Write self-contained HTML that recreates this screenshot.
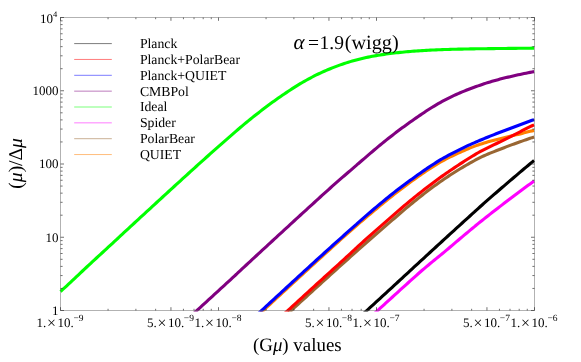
<!DOCTYPE html>
<html><head><meta charset="utf-8"><title>plot</title>
<style>html,body{margin:0;padding:0;background:#fff}svg{display:block;will-change:transform}text{font-family:"Liberation Serif",serif;fill:#000;text-rendering:geometricPrecision}.i{font-style:italic}</style></head><body>
<svg width="581" height="362" viewBox="0 0 581 362">
<rect width="581" height="362" fill="#fff"/>
<defs><clipPath id="c"><rect x="56.5" y="17.5" width="482.0" height="294.0"/></clipPath></defs>
<g clip-path="url(#c)" fill="none" stroke-width="3.1" stroke-linejoin="round">
<path d="M258.3,315.05 L260.3,313.21 L262.3,311.37 L264.3,309.52 L266.3,307.68 L268.3,305.84 L270.3,304.00 L272.3,302.15 L274.3,300.31 L276.3,298.47 L278.3,296.62 L280.3,294.78 L282.3,292.94 L284.3,291.09 L286.3,289.25 L288.3,287.41 L290.3,285.56 L292.3,283.72 L294.3,281.88 L296.3,280.04 L298.3,278.20 L300.3,276.37 L302.3,274.53 L304.3,272.69 L306.3,270.86 L308.3,269.03 L310.3,267.20 L312.3,265.37 L314.3,263.54 L316.3,261.72 L318.3,259.89 L320.3,258.07 L322.3,256.26 L324.3,254.44 L326.3,252.63 L328.3,250.81 L330.3,249.00 L332.3,247.19 L334.3,245.37 L336.3,243.56 L338.3,241.75 L340.3,239.94 L342.3,238.14 L344.3,236.35 L346.3,234.57 L348.3,232.80 L350.3,231.04 L352.3,229.30 L354.3,227.56 L356.3,225.84 L358.2,224.12 L360.2,222.41 L362.2,220.71 L364.2,219.01 L366.2,217.33 L368.2,215.64 L370.2,213.96 L372.2,212.29 L374.2,210.61 L376.2,208.95 L378.2,207.29 L380.2,205.64 L382.2,204.00 L384.2,202.36 L386.2,200.74 L388.2,199.13 L390.2,197.54 L392.2,195.95 L394.2,194.38 L396.2,192.83 L398.2,191.28 L400.2,189.75 L402.2,188.23 L404.2,186.73 L406.2,185.24 L408.2,183.76 L410.2,182.29 L412.2,180.84 L414.2,179.40 L416.2,177.98 L418.2,176.57 L420.2,175.17 L422.2,173.79 L424.2,172.43 L426.2,171.08 L428.2,169.75 L430.2,168.43 L432.2,167.14 L434.2,165.87 L436.2,164.63 L438.2,163.42 L440.2,162.25 L442.2,161.11 L444.2,160.02 L446.2,158.96 L448.2,157.95 L450.2,156.96 L452.2,156.00 L454.2,155.05 L456.2,154.12 L458.2,153.20 L460.2,152.29 L462.2,151.38 L464.2,150.48 L466.2,149.59 L468.2,148.73 L470.2,147.90 L472.2,147.11 L474.2,146.36 L476.1,145.64 L478.1,144.95 L480.1,144.29 L482.1,143.65 L484.1,143.03 L486.1,142.43 L488.1,141.84 L490.1,141.27 L492.1,140.72 L494.1,140.18 L496.1,139.65 L498.1,139.14 L500.1,138.63 L502.1,138.14 L504.1,137.65 L506.1,137.18 L508.1,136.71 L510.1,136.25 L512.1,135.79 L514.1,135.33 L516.1,134.86 L518.1,134.39 L520.1,133.89 L522.1,133.38 L524.1,132.86 L526.1,132.34 L528.1,131.82 L530.1,131.33 L532.1,130.87 L534.1,130.45" stroke="#ff8000"/>
<path d="M286.3,315.06 L288.3,313.23 L290.3,311.39 L292.3,309.56 L294.3,307.73 L296.3,305.89 L298.3,304.06 L300.3,302.23 L302.3,300.40 L304.3,298.57 L306.3,296.74 L308.3,294.92 L310.3,293.09 L312.3,291.27 L314.3,289.44 L316.3,287.62 L318.3,285.80 L320.3,283.98 L322.3,282.17 L324.3,280.35 L326.3,278.54 L328.3,276.73 L330.3,274.92 L332.3,273.11 L334.3,271.31 L336.3,269.51 L338.3,267.70 L340.3,265.90 L342.3,264.11 L344.3,262.31 L346.3,260.52 L348.3,258.73 L350.3,256.95 L352.3,255.16 L354.3,253.38 L356.3,251.61 L358.2,249.84 L360.2,248.07 L362.2,246.30 L364.2,244.54 L366.2,242.78 L368.2,241.02 L370.2,239.27 L372.2,237.52 L374.2,235.78 L376.2,234.04 L378.2,232.30 L380.2,230.56 L382.2,228.83 L384.2,227.10 L386.2,225.37 L388.2,223.65 L390.2,221.92 L392.2,220.19 L394.2,218.46 L396.2,216.73 L398.2,215.00 L400.2,213.28 L402.2,211.56 L404.2,209.86 L406.2,208.17 L408.2,206.50 L410.2,204.84 L412.2,203.20 L414.2,201.57 L416.2,199.95 L418.2,198.35 L420.2,196.76 L422.2,195.18 L424.2,193.62 L426.2,192.07 L428.2,190.54 L430.2,189.03 L432.2,187.55 L434.2,186.09 L436.2,184.65 L438.2,183.23 L440.2,181.84 L442.2,180.46 L444.2,179.09 L446.2,177.73 L448.2,176.39 L450.2,175.06 L452.2,173.75 L454.2,172.46 L456.2,171.19 L458.2,169.95 L460.2,168.74 L462.2,167.55 L464.2,166.38 L466.2,165.22 L468.2,164.08 L470.2,162.95 L472.2,161.84 L474.2,160.75 L476.1,159.69 L478.1,158.65 L480.1,157.65 L482.1,156.69 L484.1,155.77 L486.1,154.88 L488.1,154.02 L490.1,153.18 L492.1,152.37 L494.1,151.57 L496.1,150.79 L498.1,150.00 L500.1,149.22 L502.1,148.45 L504.1,147.68 L506.1,146.91 L508.1,146.15 L510.1,145.41 L512.1,144.67 L514.1,143.94 L516.1,143.22 L518.1,142.51 L520.1,141.80 L522.1,141.09 L524.1,140.38 L526.1,139.67 L528.1,138.97 L530.1,138.28 L532.1,137.64 L534.1,137.05" stroke="#996633"/>
<path d="M372.2,315.54 L374.2,313.71 L376.2,311.87 L378.2,310.04 L380.2,308.21 L382.2,306.38 L384.2,304.55 L386.2,302.72 L388.2,300.89 L390.2,299.07 L392.2,297.25 L394.2,295.42 L396.2,293.60 L398.2,291.79 L400.2,289.97 L402.2,288.16 L404.2,286.34 L406.2,284.54 L408.2,282.73 L410.2,280.93 L412.2,279.13 L414.2,277.33 L416.2,275.55 L418.2,273.77 L420.2,272.01 L422.2,270.27 L424.2,268.56 L426.2,266.86 L428.2,265.19 L430.2,263.54 L432.2,261.91 L434.2,260.28 L436.2,258.66 L438.2,257.03 L440.2,255.40 L442.2,253.75 L444.2,252.09 L446.2,250.41 L448.2,248.72 L450.2,247.03 L452.2,245.32 L454.2,243.62 L456.2,241.92 L458.2,240.22 L460.2,238.53 L462.2,236.85 L464.2,235.17 L466.2,233.50 L468.2,231.84 L470.2,230.18 L472.2,228.54 L474.2,226.90 L476.1,225.27 L478.1,223.65 L480.1,222.04 L482.1,220.44 L484.1,218.84 L486.1,217.26 L488.1,215.68 L490.1,214.12 L492.1,212.56 L494.1,211.01 L496.1,209.46 L498.1,207.92 L500.1,206.39 L502.1,204.87 L504.1,203.35 L506.1,201.83 L508.1,200.32 L510.1,198.81 L512.1,197.30 L514.1,195.79 L516.1,194.29 L518.1,192.79 L520.1,191.29 L522.1,189.80 L524.1,188.31 L526.1,186.83 L528.1,185.36 L530.1,183.89 L532.1,182.41 L534.1,180.94" stroke="#ff00ff"/>
<path d="M60.5,291.49 L62.5,289.69 L64.5,287.87 L66.5,286.03 L68.5,284.17 L70.5,282.30 L72.5,280.42 L74.5,278.54 L76.5,276.65 L78.5,274.77 L80.5,272.88 L82.5,271.00 L84.5,269.12 L86.5,267.25 L88.5,265.39 L90.5,263.53 L92.5,261.69 L94.5,259.84 L96.5,258.00 L98.5,256.17 L100.5,254.33 L102.5,252.49 L104.5,250.65 L106.5,248.81 L108.5,246.97 L110.5,245.13 L112.5,243.29 L114.5,241.45 L116.5,239.60 L118.5,237.76 L120.4,235.92 L122.4,234.07 L124.4,232.23 L126.4,230.39 L128.4,228.54 L130.4,226.70 L132.4,224.86 L134.4,223.01 L136.4,221.17 L138.4,219.33 L140.4,217.48 L142.4,215.64 L144.4,213.80 L146.4,211.96 L148.4,210.12 L150.4,208.28 L152.4,206.44 L154.4,204.60 L156.4,202.76 L158.4,200.93 L160.4,199.09 L162.4,197.25 L164.4,195.42 L166.4,193.59 L168.4,191.75 L170.4,189.92 L172.4,188.09 L174.4,186.26 L176.4,184.44 L178.4,182.61 L180.4,180.79 L182.4,178.96 L184.4,177.14 L186.4,175.33 L188.4,173.51 L190.4,171.69 L192.4,169.88 L194.4,168.07 L196.4,166.26 L198.4,164.46 L200.4,162.66 L202.4,160.86 L204.4,159.06 L206.4,157.27 L208.4,155.48 L210.4,153.69 L212.4,151.91 L214.4,150.13 L216.4,148.36 L218.4,146.59 L220.4,144.83 L222.4,143.07 L224.4,141.31 L226.4,139.57 L228.4,137.82 L230.4,136.09 L232.4,134.36 L234.4,132.64 L236.4,130.92 L238.3,129.22 L240.3,127.53 L242.3,125.85 L244.3,124.18 L246.3,122.52 L248.3,120.88 L250.3,119.26 L252.3,117.65 L254.3,116.06 L256.3,114.47 L258.3,112.91 L260.3,111.35 L262.3,109.81 L264.3,108.29 L266.3,106.78 L268.3,105.29 L270.3,103.82 L272.3,102.36 L274.3,100.93 L276.3,99.50 L278.3,98.10 L280.3,96.70 L282.3,95.33 L284.3,93.96 L286.3,92.61 L288.3,91.28 L290.3,89.97 L292.3,88.67 L294.3,87.40 L296.3,86.14 L298.3,84.91 L300.3,83.70 L302.3,82.52 L304.3,81.36 L306.3,80.23 L308.3,79.13 L310.3,78.05 L312.3,77.00 L314.3,75.98 L316.3,74.98 L318.3,74.01 L320.3,73.07 L322.3,72.16 L324.3,71.26 L326.3,70.39 L328.3,69.54 L330.3,68.72 L332.3,67.91 L334.3,67.12 L336.3,66.36 L338.3,65.61 L340.3,64.89 L342.3,64.19 L344.3,63.51 L346.3,62.85 L348.3,62.22 L350.3,61.61 L352.3,61.02 L354.3,60.46 L356.3,59.92 L358.2,59.41 L360.2,58.91 L362.2,58.44 L364.2,57.98 L366.2,57.55 L368.2,57.13 L370.2,56.73 L372.2,56.35 L374.2,55.98 L376.2,55.62 L378.2,55.29 L380.2,54.96 L382.2,54.65 L384.2,54.35 L386.2,54.07 L388.2,53.80 L390.2,53.53 L392.2,53.28 L394.2,53.04 L396.2,52.81 L398.2,52.59 L400.2,52.38 L402.2,52.18 L404.2,51.99 L406.2,51.80 L408.2,51.63 L410.2,51.45 L412.2,51.29 L414.2,51.13 L416.2,50.98 L418.2,50.84 L420.2,50.71 L422.2,50.58 L424.2,50.46 L426.2,50.34 L428.2,50.23 L430.2,50.13 L432.2,50.04 L434.2,49.95 L436.2,49.86 L438.2,49.78 L440.2,49.71 L442.2,49.63 L444.2,49.56 L446.2,49.50 L448.2,49.44 L450.2,49.38 L452.2,49.32 L454.2,49.27 L456.2,49.22 L458.2,49.17 L460.2,49.12 L462.2,49.08 L464.2,49.04 L466.2,49.00 L468.2,48.96 L470.2,48.92 L472.2,48.89 L474.2,48.86 L476.1,48.82 L478.1,48.79 L480.1,48.77 L482.1,48.74 L484.1,48.71 L486.1,48.68 L488.1,48.66 L490.1,48.63 L492.1,48.61 L494.1,48.59 L496.1,48.56 L498.1,48.54 L500.1,48.52 L502.1,48.49 L504.1,48.47 L506.1,48.45 L508.1,48.42 L510.1,48.40 L512.1,48.38 L514.1,48.36 L516.1,48.34 L518.1,48.31 L520.1,48.29 L522.1,48.27 L524.1,48.25 L526.1,48.23 L528.1,48.21 L530.1,48.19 L532.1,48.17 L534.1,48.16" stroke="#00ff00"/>
<path d="M190.4,316.44 L192.4,314.61 L194.4,312.77 L196.4,310.94 L198.4,309.11 L200.4,307.28 L202.4,305.46 L204.4,303.63 L206.4,301.80 L208.4,299.97 L210.4,298.14 L212.4,296.31 L214.4,294.48 L216.4,292.65 L218.4,290.81 L220.4,288.98 L222.4,287.14 L224.4,285.30 L226.4,283.47 L228.4,281.62 L230.4,279.78 L232.4,277.94 L234.4,276.09 L236.4,274.24 L238.3,272.39 L240.3,270.55 L242.3,268.70 L244.3,266.85 L246.3,265.00 L248.3,263.15 L250.3,261.30 L252.3,259.46 L254.3,257.61 L256.3,255.76 L258.3,253.91 L260.3,252.07 L262.3,250.22 L264.3,248.38 L266.3,246.53 L268.3,244.69 L270.3,242.84 L272.3,241.00 L274.3,239.16 L276.3,237.31 L278.3,235.47 L280.3,233.63 L282.3,231.79 L284.3,229.95 L286.3,228.11 L288.3,226.27 L290.3,224.44 L292.3,222.60 L294.3,220.76 L296.3,218.93 L298.3,217.10 L300.3,215.26 L302.3,213.43 L304.3,211.60 L306.3,209.77 L308.3,207.95 L310.3,206.12 L312.3,204.30 L314.3,202.48 L316.3,200.66 L318.3,198.84 L320.3,197.02 L322.3,195.21 L324.3,193.40 L326.3,191.59 L328.3,189.79 L330.3,188.00 L332.3,186.21 L334.3,184.44 L336.3,182.67 L338.3,180.92 L340.3,179.17 L342.3,177.44 L344.3,175.71 L346.3,173.99 L348.3,172.27 L350.3,170.56 L352.3,168.85 L354.3,167.14 L356.3,165.43 L358.2,163.72 L360.2,162.01 L362.2,160.29 L364.2,158.57 L366.2,156.86 L368.2,155.14 L370.2,153.42 L372.2,151.72 L374.2,150.02 L376.2,148.33 L378.2,146.65 L380.2,144.99 L382.2,143.35 L384.2,141.72 L386.2,140.11 L388.2,138.52 L390.2,136.95 L392.2,135.40 L394.2,133.86 L396.2,132.33 L398.2,130.83 L400.2,129.34 L402.2,127.86 L404.2,126.40 L406.2,124.95 L408.2,123.51 L410.2,122.09 L412.2,120.68 L414.2,119.28 L416.2,117.89 L418.2,116.50 L420.2,115.13 L422.2,113.76 L424.2,112.41 L426.2,111.08 L428.2,109.78 L430.2,108.50 L432.2,107.26 L434.2,106.05 L436.2,104.86 L438.2,103.71 L440.2,102.58 L442.2,101.48 L444.2,100.41 L446.2,99.36 L448.2,98.34 L450.2,97.34 L452.2,96.37 L454.2,95.43 L456.2,94.51 L458.2,93.61 L460.2,92.74 L462.2,91.89 L464.2,91.07 L466.2,90.27 L468.2,89.50 L470.2,88.74 L472.2,88.00 L474.2,87.28 L476.1,86.57 L478.1,85.87 L480.1,85.17 L482.1,84.48 L484.1,83.81 L486.1,83.15 L488.1,82.51 L490.1,81.90 L492.1,81.30 L494.1,80.73 L496.1,80.17 L498.1,79.63 L500.1,79.10 L502.1,78.59 L504.1,78.09 L506.1,77.60 L508.1,77.12 L510.1,76.65 L512.1,76.19 L514.1,75.74 L516.1,75.30 L518.1,74.86 L520.1,74.44 L522.1,74.02 L524.1,73.60 L526.1,73.19 L528.1,72.79 L530.1,72.39 L532.1,72.00 L534.1,71.61" stroke="#800080"/>
<path d="M256.3,315.41 L258.3,313.57 L260.3,311.72 L262.3,309.87 L264.3,308.03 L266.3,306.18 L268.3,304.33 L270.3,302.49 L272.3,300.65 L274.3,298.80 L276.3,296.96 L278.3,295.12 L280.3,293.27 L282.3,291.43 L284.3,289.59 L286.3,287.75 L288.3,285.91 L290.3,284.07 L292.3,282.24 L294.3,280.40 L296.3,278.56 L298.3,276.73 L300.3,274.90 L302.3,273.06 L304.3,271.23 L306.3,269.40 L308.3,267.57 L310.3,265.75 L312.3,263.92 L314.3,262.09 L316.3,260.27 L318.3,258.45 L320.3,256.63 L322.3,254.82 L324.3,253.00 L326.3,251.19 L328.3,249.38 L330.3,247.57 L332.3,245.76 L334.3,243.96 L336.3,242.16 L338.3,240.37 L340.3,238.57 L342.3,236.78 L344.3,235.00 L346.3,233.21 L348.3,231.43 L350.3,229.66 L352.3,227.89 L354.3,226.12 L356.3,224.36 L358.2,222.61 L360.2,220.86 L362.2,219.11 L364.2,217.38 L366.2,215.65 L368.2,213.92 L370.2,212.21 L372.2,210.50 L374.2,208.80 L376.2,207.11 L378.2,205.43 L380.2,203.76 L382.2,202.10 L384.2,200.45 L386.2,198.81 L388.2,197.19 L390.2,195.58 L392.2,193.98 L394.2,192.40 L396.2,190.84 L398.2,189.30 L400.2,187.77 L402.2,186.26 L404.2,184.76 L406.2,183.28 L408.2,181.81 L410.2,180.35 L412.2,178.90 L414.2,177.45 L416.2,176.02 L418.2,174.60 L420.2,173.18 L422.2,171.78 L424.2,170.39 L426.2,169.01 L428.2,167.65 L430.2,166.30 L432.2,164.98 L434.2,163.68 L436.2,162.40 L438.2,161.15 L440.2,159.94 L442.2,158.77 L444.2,157.64 L446.2,156.55 L448.2,155.49 L450.2,154.45 L452.2,153.43 L454.2,152.41 L456.2,151.39 L458.2,150.37 L460.2,149.36 L462.2,148.36 L464.2,147.37 L466.2,146.41 L468.2,145.47 L470.2,144.56 L472.2,143.67 L474.2,142.81 L476.1,141.96 L478.1,141.12 L480.1,140.28 L482.1,139.45 L484.1,138.61 L486.1,137.78 L488.1,136.96 L490.1,136.15 L492.1,135.36 L494.1,134.57 L496.1,133.78 L498.1,133.01 L500.1,132.23 L502.1,131.47 L504.1,130.70 L506.1,129.94 L508.1,129.19 L510.1,128.44 L512.1,127.70 L514.1,126.95 L516.1,126.21 L518.1,125.47 L520.1,124.72 L522.1,123.97 L524.1,123.22 L526.1,122.47 L528.1,121.73 L530.1,121.02 L532.1,120.34 L534.1,119.72" stroke="#0000ff"/>
<path d="M282.3,315.61 L284.3,313.77 L286.3,311.93 L288.3,310.10 L290.3,308.27 L292.3,306.43 L294.3,304.60 L296.3,302.77 L298.3,300.94 L300.3,299.11 L302.3,297.28 L304.3,295.46 L306.3,293.63 L308.3,291.80 L310.3,289.98 L312.3,288.16 L314.3,286.34 L316.3,284.51 L318.3,282.69 L320.3,280.88 L322.3,279.06 L324.3,277.24 L326.3,275.43 L328.3,273.61 L330.3,271.80 L332.3,269.98 L334.3,268.17 L336.3,266.36 L338.3,264.54 L340.3,262.72 L342.3,260.89 L344.3,259.05 L346.3,257.21 L348.3,255.37 L350.3,253.52 L352.3,251.67 L354.3,249.83 L356.3,248.00 L358.2,246.17 L360.2,244.36 L362.2,242.56 L364.2,240.76 L366.2,238.97 L368.2,237.18 L370.2,235.40 L372.2,233.63 L374.2,231.85 L376.2,230.09 L378.2,228.32 L380.2,226.56 L382.2,224.80 L384.2,223.05 L386.2,221.30 L388.2,219.56 L390.2,217.82 L392.2,216.08 L394.2,214.35 L396.2,212.63 L398.2,210.91 L400.2,209.20 L402.2,207.50 L404.2,205.80 L406.2,204.11 L408.2,202.44 L410.2,200.78 L412.2,199.13 L414.2,197.50 L416.2,195.88 L418.2,194.27 L420.2,192.68 L422.2,191.10 L424.2,189.53 L426.2,187.98 L428.2,186.44 L430.2,184.91 L432.2,183.40 L434.2,181.91 L436.2,180.43 L438.2,178.97 L440.2,177.54 L442.2,176.12 L444.2,174.71 L446.2,173.33 L448.2,171.95 L450.2,170.59 L452.2,169.24 L454.2,167.89 L456.2,166.56 L458.2,165.23 L460.2,163.91 L462.2,162.59 L464.2,161.29 L466.2,160.00 L468.2,158.73 L470.2,157.48 L472.2,156.26 L474.2,155.05 L476.1,153.88 L478.1,152.74 L480.1,151.64 L482.1,150.57 L484.1,149.54 L486.1,148.54 L488.1,147.56 L490.1,146.60 L492.1,145.64 L494.1,144.68 L496.1,143.73 L498.1,142.77 L500.1,141.81 L502.1,140.85 L504.1,139.89 L506.1,138.91 L508.1,137.92 L510.1,136.92 L512.1,135.90 L514.1,134.87 L516.1,133.84 L518.1,132.80 L520.1,131.76 L522.1,130.73 L524.1,129.69 L526.1,128.66 L528.1,127.66 L530.1,126.68 L532.1,125.74 L534.1,124.87" stroke="#ff0000"/>
<path d="M362.2,314.77 L364.2,312.93 L366.2,311.10 L368.2,309.27 L370.2,307.44 L372.2,305.61 L374.2,303.78 L376.2,301.94 L378.2,300.11 L380.2,298.28 L382.2,296.45 L384.2,294.61 L386.2,292.78 L388.2,290.94 L390.2,289.11 L392.2,287.27 L394.2,285.43 L396.2,283.58 L398.2,281.74 L400.2,279.90 L402.2,278.05 L404.2,276.21 L406.2,274.36 L408.2,272.52 L410.2,270.67 L412.2,268.83 L414.2,266.98 L416.2,265.14 L418.2,263.30 L420.2,261.45 L422.2,259.61 L424.2,257.77 L426.2,255.93 L428.2,254.09 L430.2,252.25 L432.2,250.42 L434.2,248.58 L436.2,246.74 L438.2,244.91 L440.2,243.07 L442.2,241.24 L444.2,239.41 L446.2,237.58 L448.2,235.75 L450.2,233.92 L452.2,232.10 L454.2,230.27 L456.2,228.45 L458.2,226.63 L460.2,224.81 L462.2,222.99 L464.2,221.18 L466.2,219.37 L468.2,217.56 L470.2,215.75 L472.2,213.94 L474.2,212.14 L476.1,210.34 L478.1,208.55 L480.1,206.76 L482.1,204.98 L484.1,203.21 L486.1,201.44 L488.1,199.68 L490.1,197.93 L492.1,196.18 L494.1,194.44 L496.1,192.71 L498.1,190.98 L500.1,189.26 L502.1,187.54 L504.1,185.82 L506.1,184.10 L508.1,182.39 L510.1,180.68 L512.1,178.97 L514.1,177.26 L516.1,175.56 L518.1,173.86 L520.1,172.17 L522.1,170.48 L524.1,168.80 L526.1,167.13 L528.1,165.46 L530.1,163.81 L532.1,162.17 L534.1,160.55" stroke="#000000"/>
</g>
<g stroke="#666" stroke-width="0.5" fill="none">
<rect x="60.5" y="17.5" width="474.0" height="293.0"/>
<path d="M60.50,310.5v-3.3M60.50,17.5v3.3M108.06,310.5v-1.7M108.06,17.5v1.7M135.89,310.5v-1.7M135.89,17.5v1.7M155.63,310.5v-1.7M155.63,17.5v1.7M170.94,310.5v-3.3M170.94,17.5v3.3M183.45,310.5v-1.7M183.45,17.5v1.7M194.03,310.5v-1.7M194.03,17.5v1.7M203.19,310.5v-1.7M203.19,17.5v1.7M211.27,310.5v-1.7M211.27,17.5v1.7M218.50,310.5v-3.3M218.50,17.5v3.3M266.06,310.5v-1.7M266.06,17.5v1.7M293.89,310.5v-1.7M293.89,17.5v1.7M313.63,310.5v-1.7M313.63,17.5v1.7M328.94,310.5v-3.3M328.94,17.5v3.3M341.45,310.5v-1.7M341.45,17.5v1.7M352.03,310.5v-1.7M352.03,17.5v1.7M361.19,310.5v-1.7M361.19,17.5v1.7M369.27,310.5v-1.7M369.27,17.5v1.7M376.50,310.5v-3.3M376.50,17.5v3.3M424.06,310.5v-1.7M424.06,17.5v1.7M451.89,310.5v-1.7M451.89,17.5v1.7M471.63,310.5v-1.7M471.63,17.5v1.7M486.94,310.5v-3.3M486.94,17.5v3.3M499.45,310.5v-1.7M499.45,17.5v1.7M510.03,310.5v-1.7M510.03,17.5v1.7M519.19,310.5v-1.7M519.19,17.5v1.7M527.27,310.5v-1.7M527.27,17.5v1.7M534.50,310.5v-3.3M534.50,17.5v3.3M60.5,310.50h3.5M534.5,310.50h-3.5M60.5,288.45h2.1M534.5,288.45h-2.1M60.5,275.55h2.1M534.5,275.55h-2.1M60.5,266.40h2.1M534.5,266.40h-2.1M60.5,259.30h2.1M534.5,259.30h-2.1M60.5,253.50h2.1M534.5,253.50h-2.1M60.5,248.60h2.1M534.5,248.60h-2.1M60.5,244.35h2.1M534.5,244.35h-2.1M60.5,240.60h2.1M534.5,240.60h-2.1M60.5,237.25h3.5M534.5,237.25h-3.5M60.5,215.20h2.1M534.5,215.20h-2.1M60.5,202.30h2.1M534.5,202.30h-2.1M60.5,193.15h2.1M534.5,193.15h-2.1M60.5,186.05h2.1M534.5,186.05h-2.1M60.5,180.25h2.1M534.5,180.25h-2.1M60.5,175.35h2.1M534.5,175.35h-2.1M60.5,171.10h2.1M534.5,171.10h-2.1M60.5,167.35h2.1M534.5,167.35h-2.1M60.5,164.00h3.5M534.5,164.00h-3.5M60.5,141.95h2.1M534.5,141.95h-2.1M60.5,129.05h2.1M534.5,129.05h-2.1M60.5,119.90h2.1M534.5,119.90h-2.1M60.5,112.80h2.1M534.5,112.80h-2.1M60.5,107.00h2.1M534.5,107.00h-2.1M60.5,102.10h2.1M534.5,102.10h-2.1M60.5,97.85h2.1M534.5,97.85h-2.1M60.5,94.10h2.1M534.5,94.10h-2.1M60.5,90.75h3.5M534.5,90.75h-3.5M60.5,68.70h2.1M534.5,68.70h-2.1M60.5,55.80h2.1M534.5,55.80h-2.1M60.5,46.65h2.1M534.5,46.65h-2.1M60.5,39.55h2.1M534.5,39.55h-2.1M60.5,33.75h2.1M534.5,33.75h-2.1M60.5,28.85h2.1M534.5,28.85h-2.1M60.5,24.60h2.1M534.5,24.60h-2.1M60.5,20.85h2.1M534.5,20.85h-2.1M60.5,17.50h3.5M534.5,17.50h-3.5" stroke="#333" stroke-width="0.7"/>
</g>
<text x="58.6" y="314.80" font-size="13" text-anchor="end">1</text>
<text x="58.6" y="241.55" font-size="13" text-anchor="end">10</text>
<text x="58.6" y="168.30" font-size="13" text-anchor="end">100</text>
<text x="58.6" y="95.05" font-size="13" text-anchor="end">1000</text>
<text x="53.0" y="22.7" font-size="13" text-anchor="end">10</text><text x="52.9" y="16.5" font-size="8.5">4</text>
<text y="326.5" font-size="13"><tspan x="36.60">1.</tspan><tspan x="47.10" dy="1.5" font-size="15.8">×</tspan><tspan x="57.60" dy="-1.5">10.</tspan></text><text x="73.40" y="321.1" font-size="9.5">−9</text>
<text y="326.5" font-size="13"><tspan x="147.04">5.</tspan><tspan x="157.54" dy="1.5" font-size="15.8">×</tspan><tspan x="168.04" dy="-1.5">10.</tspan></text><text x="183.84" y="321.1" font-size="9.5">−9</text>
<text y="326.5" font-size="13"><tspan x="194.60">1.</tspan><tspan x="205.10" dy="1.5" font-size="15.8">×</tspan><tspan x="215.60" dy="-1.5">10.</tspan></text><text x="231.40" y="321.1" font-size="9.5">−8</text>
<text y="326.5" font-size="13"><tspan x="305.04">5.</tspan><tspan x="315.54" dy="1.5" font-size="15.8">×</tspan><tspan x="326.04" dy="-1.5">10.</tspan></text><text x="341.84" y="321.1" font-size="9.5">−8</text>
<text y="326.5" font-size="13"><tspan x="352.60">1.</tspan><tspan x="363.10" dy="1.5" font-size="15.8">×</tspan><tspan x="373.60" dy="-1.5">10.</tspan></text><text x="389.40" y="321.1" font-size="9.5">−7</text>
<text y="326.5" font-size="13"><tspan x="463.04">5.</tspan><tspan x="473.54" dy="1.5" font-size="15.8">×</tspan><tspan x="484.04" dy="-1.5">10.</tspan></text><text x="499.84" y="321.1" font-size="9.5">−7</text>
<text y="326.5" font-size="13"><tspan x="510.60">1.</tspan><tspan x="521.10" dy="1.5" font-size="15.8">×</tspan><tspan x="531.60" dy="-1.5">10.</tspan></text><text x="547.40" y="321.1" font-size="9.5">−6</text>
<text x="297.3" y="350.8" font-size="18.9" text-anchor="middle">(G<tspan class="i">μ</tspan>) values</text>
<text transform="translate(22.0,163.4) rotate(-90)" font-size="19.5" text-anchor="middle">(<tspan class="i">μ</tspan>)/Δ<tspan class="i">μ</tspan></text>
<text y="48.5" font-size="19.5"><tspan x="293.4" class="i" font-size="21">α</tspan><tspan x="307.9">=</tspan><tspan x="319.6">1.9</tspan><tspan x="344.7" font-size="20.3">(wigg)</tspan></text>
<path d="M74.2,43.60H111.8" stroke="#000" stroke-width="0.52" fill="none"/>
<text x="139.9" y="48.00" font-size="13.75">Planck</text>
<path d="M74.2,59.45H111.8" stroke="#f00" stroke-width="0.52" fill="none"/>
<text x="139.9" y="63.85" font-size="13.75">Planck+PolarBear</text>
<path d="M74.2,75.30H111.8" stroke="#00f" stroke-width="0.52" fill="none"/>
<text x="139.9" y="79.70" font-size="13.75">Planck+QUIET</text>
<path d="M74.2,91.15H111.8" stroke="#800080" stroke-width="0.52" fill="none"/>
<text x="139.9" y="95.55" font-size="13.75">CMBPol</text>
<path d="M74.2,107.00H111.8" stroke="#0f0" stroke-width="0.52" fill="none"/>
<text x="139.9" y="111.40" font-size="13.75">Ideal</text>
<path d="M74.2,122.85H111.8" stroke="#f0f" stroke-width="0.52" fill="none"/>
<text x="139.9" y="127.25" font-size="13.75">Spider</text>
<path d="M74.2,138.70H111.8" stroke="#963" stroke-width="0.52" fill="none"/>
<text x="139.9" y="143.10" font-size="13.75">PolarBear</text>
<path d="M74.2,154.55H111.8" stroke="#ff8000" stroke-width="0.52" fill="none"/>
<text x="139.9" y="158.95" font-size="13.75">QUIET</text>
</svg></body></html>
